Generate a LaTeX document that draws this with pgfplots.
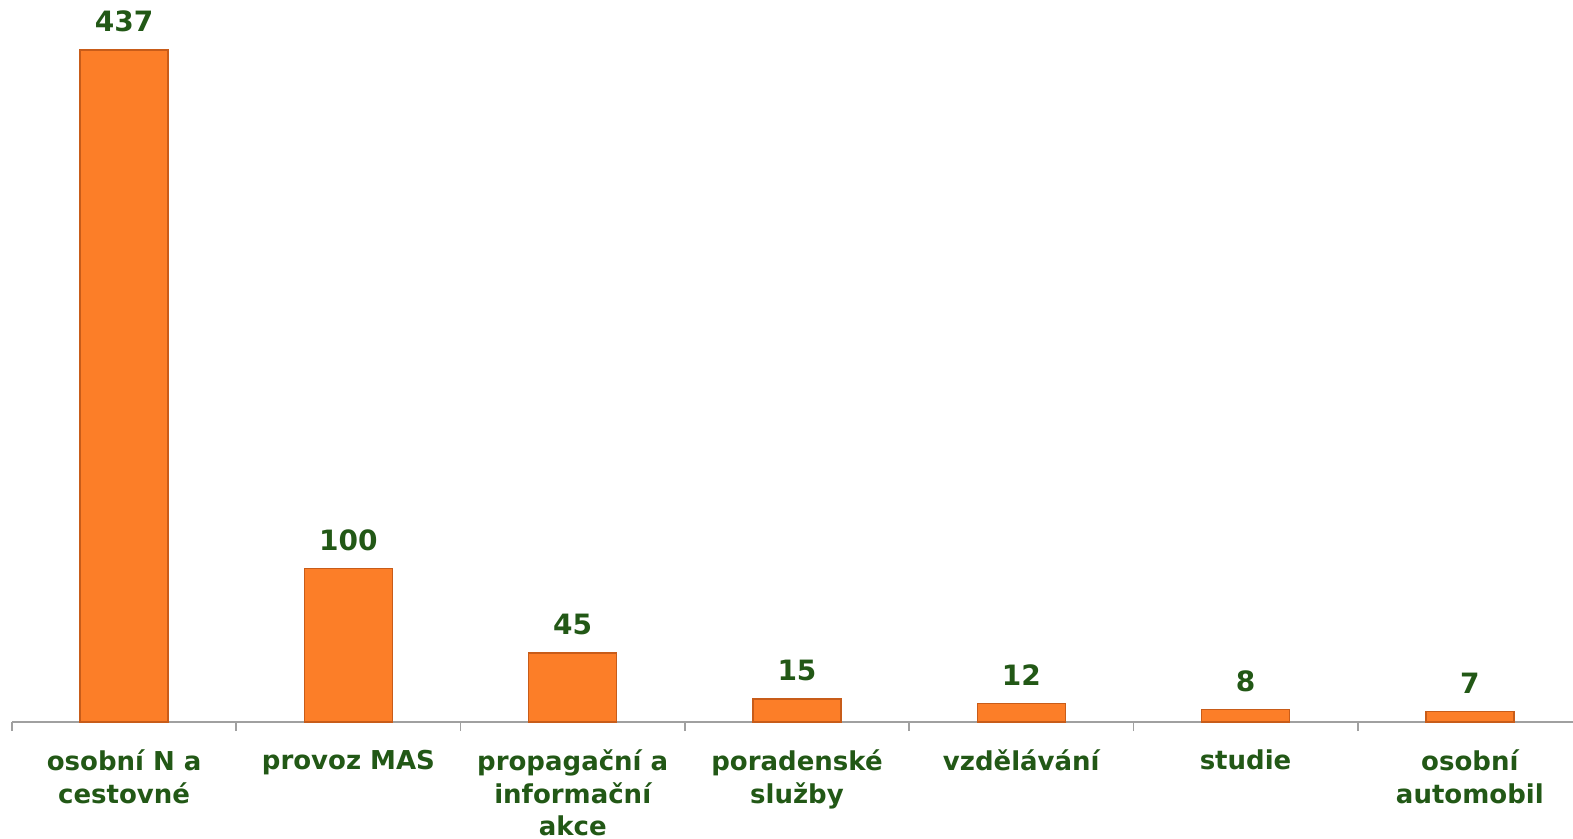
\documentclass[border=0pt]{standalone}
\usepackage{fontspec}
\setmainfont{DejaVu Sans}
\usepackage{pgfplots}
\pgfplotsset{compat=1.18}
\definecolor{barorange}{RGB}{252,126,40}
\definecolor{baredge}{RGB}{200,92,25}
\definecolor{txtgreen}{RGB}{34,88,22}
\definecolor{axgray}{RGB}{160,160,160}
\begin{document}
\begin{tikzpicture}
\begin{axis}[
  name=ax,
  scale only axis,
  width=780.5bp, height=361bp,
  xmin=-0.5, xmax=6.46,
  ymin=0, ymax=469.5,
  axis y line=none,
  axis x line*=bottom,
  x axis line style={axgray, line width=0.8bp},
  ybar, bar width=44bp,
  xtick={0,...,6},
  xticklabels={{osobní N a\\cestovné},{provoz MAS},{propagační a\\informační\\akce},{poradenské\\služby},{vzdělávání},{studie},{osobní\\automobil}},
  major tick length=0pt,
  extra x ticks={-0.5,0.5,1.5,2.5,3.5,4.5,5.5},
  extra x tick labels={},
  extra x tick style={major tick length=4.5bp, tick align=outside, tick style={axgray, line width=0.8bp}},
  xticklabel style={align=center, font=\fontsize{13bp}{16.2bp}\selectfont\bfseries, text=txtgreen, yshift=-10.5bp},
  /pgf/number format/assume math mode=true,
  nodes near coords,
  nodes near coords style={font=\fontsize{14bp}{16bp}\selectfont\bfseries, text=txtgreen, inner sep=0pt, yshift=8.5bp},
  clip=false,
]
\addplot[fill=barorange, draw=baredge, line width=0.7bp] coordinates {(0,437) (1,100) (2,45) (3,15) (4,12) (5,8) (6,7)};
\end{axis}
\pgfresetboundingbox
\path (ax.south west) ++(-6bp,-58.5bp) rectangle (ax.north east);
\end{tikzpicture}
\end{document}
